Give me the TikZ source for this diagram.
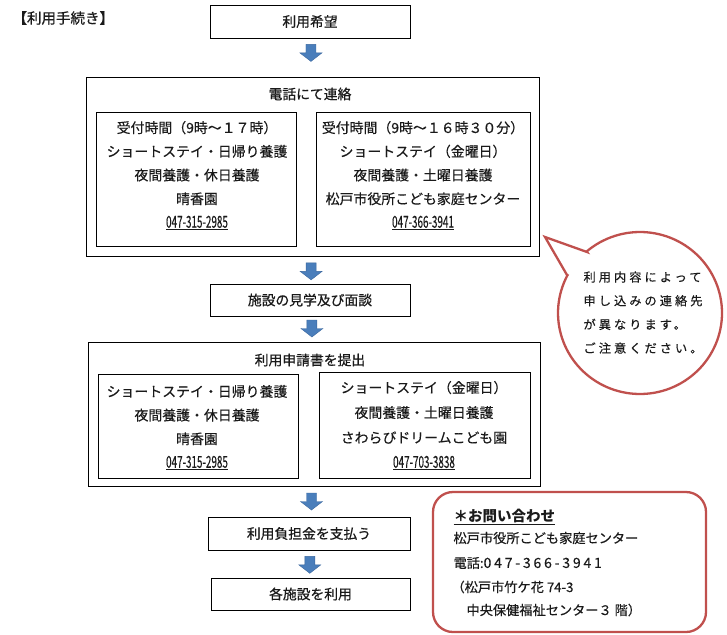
\documentclass[tikz,border=0pt]{standalone}
\usepackage{fontspec}
\usepackage{graphicx}
\setmainfont{Noto Sans CJK JP}
\newfontfamily\jplbl[FakeBold=0.7]{Noto Sans CJK JP}
\newfontfamily\jptxt[FakeBold=0.35]{Noto Sans CJK JP}
\newfontfamily\jpwide[LetterSpace=25,FakeBold=0.3]{Noto Sans CJK JP}
\newfontfamily\jpmid[LetterSpace=20,FakeBold=0.3]{Noto Sans CJK JP}
\usetikzlibrary{calc}
\definecolor{arrowblue}{HTML}{4A7EBB}
\definecolor{arrowedge}{HTML}{3A679E}
\definecolor{callred}{HTML}{C0504D}
\definecolor{ink}{HTML}{1A1A1A}
\newcommand\telno[1]{\underline{\fontsize{16.5}{16}\selectfont\scalebox{0.6}[1]{#1}}}
\newcommand\blockarrow[3]{%
  \path (#1.south) -- (#2.north) coordinate[pos=#3] (m);
  \filldraw[fill=arrowblue, draw=arrowedge, line width=0.4pt]
    ($(m)+(-5,-8.5)$) -- ($(m)+(5,-8.5)$) -- ($(m)+(5,0)$) -- ($(m)+(11,0)$)
    -- ($(m)+(0,8.5)$) -- ($(m)+(-11,0)$) -- ($(m)+(-5,0)$) -- cycle;}
\tikzset{
  box/.style={draw=black, line width=0.9pt, inner sep=0pt},
  lbl/.style={text=ink, font=\jplbl\fontsize{13.8}{16}\selectfont},
  lines/.style={text=ink, align=center, font=\jptxt\fontsize{13.9}{23.7}\selectfont},
  ctext/.style={text=ink, anchor=west, font=\jptxt\fontsize{13.2}{16}\selectfont},
  redline/.style={draw=callred, line width=2.3pt},
}
\begin{document}
\begin{tikzpicture}[x=1pt, y=-1pt]
\useasboundingbox[fill=white] (0,0) rectangle (727,634);

\node[lbl, anchor=west, font=\jplbl\fontsize{14.5}{16}\selectfont] (title) at (9,18) {【利用手続き】};

\node[box, lbl, minimum width=200, minimum height=33] (b1) at (310,21.5) {利用希望};

\node[box, minimum width=453, minimum height=179] (b2) at (312.5,166.5) {};
\node[lbl] (t2) at (310,94) {電話にて連絡};
\node[box, minimum width=200, minimum height=134] (b2L) at (196,179) {};
\node[box, minimum width=214, minimum height=134] (b2R) at (423,179) {};
\node[lines] (x2L) at (197,175.5) {受付時間（9時～１７時）\\ショートステイ・日帰り養護\\夜間養護・休日養護\\晴香園\\\telno{047-315-2985}};
\node[lines] (x2R) at (423,175.5) {受付時間（9時～１６時３０分）\\ショートステイ（金曜日）\\夜間養護・土曜日養護\\松戸市役所こども家庭センター\\\telno{047-366-3941}};

\node[box, lbl, minimum width=200, minimum height=32] (b3) at (310,300) {施設の見学及び面談};

\node[box, minimum width=452, minimum height=144] (b4) at (314,414) {};
\node[lbl] (t4) at (310,360) {利用申請書を提出};
\node[box, minimum width=200, minimum height=104] (b4L) at (198,426) {};
\node[box, minimum width=211, minimum height=106] (b4R) at (424.5,425) {};
\node[lines] (x4L) at (197,427.5) {ショートステイ・日帰り養護\\夜間養護・休日養護\\晴香園\\\telno{047-315-2985}};
\node[lines, font=\jptxt\fontsize{13.9}{25}\selectfont] (x4R) at (424,425.5) {ショートステイ（金曜日）\\夜間養護・土曜日養護\\さわらびドリームこども園\\\telno{047-703-3838}};

\node[box, lbl, minimum width=202, minimum height=33] (b5) at (309,533.5) {利用負担金を支払う};
\node[box, lbl, minimum width=199, minimum height=32] (b6) at (310.5,594) {各施設を利用};

\blockarrow{b1}{b2}{0.38}
\blockarrow{b2}{b3}{0.55}
\blockarrow{b3}{b4}{0.48}
\blockarrow{b4}{b5}{0.5}
\blockarrow{b5}{b6}{0.53}

% callout
\coordinate (tip) at (545,237);
\draw[redline, line join=miter, fill=white] (567,275) -- (tip) -- (587,252)
  -- plot[domain=229.4:567.8, samples=120, smooth] ({640+82*cos(\x)},{313+81*sin(\x)}) -- cycle;
\node[text=ink, anchor=west, align=left, font=\jpwide\fontsize{12.2}{23.7}\selectfont] (note) at (580,312.5)
  {利用内容によって\\申し込みの連絡先\\が異なります。\\ご注意ください。};

% contact box
\node[redline, rounded corners=20pt, minimum width=273, minimum height=140, fill=white] (contact) at (569.5,562) {};
\node[text=ink, anchor=west, font=\bfseries\fontsize{14.5}{16}\selectfont] (c1) at (450,517) {\underline{＊お問い合わせ}};
\node[ctext] (c2) at (450,538) {松戸市役所こども家庭センター};
\node[ctext] (c3) at (450,563) {電話:{\jpmid\fontsize{14}{16}\selectfont 047-366-3941}};
\node[ctext] (c4) at (448,587) {（松戸市竹ケ花 74-3};
\node[ctext] (c5) at (463,610) {中央保健福祉センター３ 階）};
\end{tikzpicture}
\end{document}
